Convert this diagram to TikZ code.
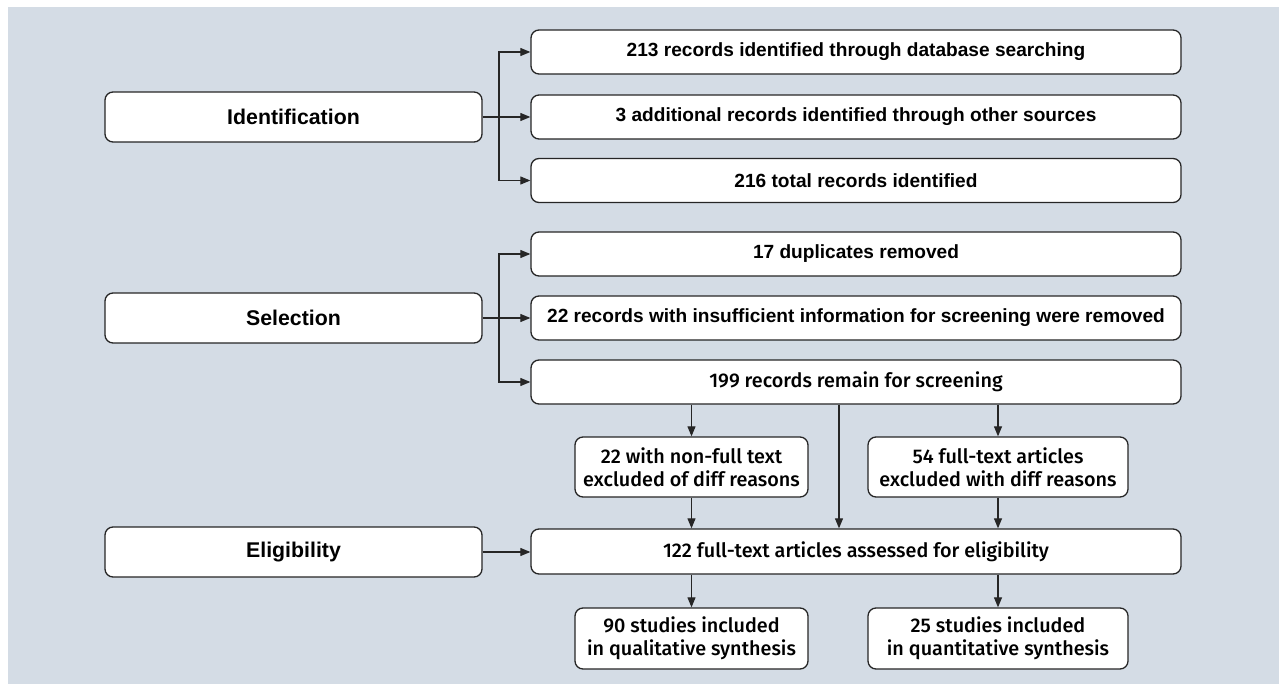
\documentclass[tikz,border=0pt]{standalone}
\usepackage{fontspec}
\usetikzlibrary{arrows.meta,calc}
\newfontfamily\arialb{Liberation Sans}[UprightFont=* Bold]
\newfontfamily\fgm{Fira Sans Medium}
\definecolor{bgc}{HTML}{D4DCE5}
\definecolor{linec}{HTML}{262626}
\tikzset{
  box/.style={draw=linec, line width=1.3pt, fill=white, rounded corners=8pt,
    rectangle, inner sep=0pt, align=center, text=black},
  fa/.style={font=\arialb\fontsize{19.1}{23}\selectfont},
  fl/.style={font=\arialb\fontsize{21.3}{25}\selectfont},
  fb/.style={font=\fgm\fontsize{19.8}{23}\selectfont},
  conn/.style={draw=linec, line width=1.1pt},
  arr/.style={conn, -{Triangle[length=10pt,width=8pt]}}
}
\begin{document}
\begin{tikzpicture}[x=1pt,y=-1pt]
\useasboundingbox (0,0) rectangle (1279,684);
\fill[bgc] (8,7) rectangle (1279,684);
% left stage boxes
\node[box,fl,minimum width=377,minimum height=50] (ident) at (293.5,117) {Identification};
\node[box,fl,minimum width=377,minimum height=50] (sel) at (293.5,318) {Selection};
\node[box,fl,minimum width=377,minimum height=50] (elig) at (293.5,552) {Eligibility};
% identification boxes
\node[box,fa,minimum width=650,minimum height=44] (r1) at (856,52) {213 records identified through database searching};
\node[box,fa,minimum width=650,minimum height=44] (r2) at (856,117) {3 additional records identified through other sources};
\node[box,fa,minimum width=650,minimum height=44] (r3) at (856,180.5) {216 total records identified};
% selection boxes
\node[box,fa,minimum width=650,minimum height=44] (s1) at (856,254) {17 duplicates removed};
\node[box,fa,minimum width=650,minimum height=44] (s2) at (856,318) {22 records with insufficient information for screening were removed};
\node[box,fb,minimum width=650,minimum height=44] (s3) at (856,382) {199 records remain for screening};
% exclusion boxes
\node[box,fb,minimum width=233,minimum height=60] (nf) at (691.5,467) {22 with non-full text\\excluded of diff reasons};
\node[box,fb,minimum width=260,minimum height=60] (ft) at (998,467) {54 full-text articles\\excluded with diff reasons};
% eligibility
\node[box,fb,minimum width=650,minimum height=45] (e1) at (856,551.5) {122 full-text articles assessed for eligibility};
% included
\node[box,fb,minimum width=233,minimum height=61] (q1) at (691.5,638.5) {90 studies included\\in qualitative synthesis};
\node[box,fb,minimum width=260,minimum height=61] (q2) at (998,638.5) {25 studies included\\in quantitative synthesis};
% connectors identification
\coordinate (bi) at (499,117);
\draw[conn] (ident.east) -- (bi);
\draw[arr] (bi) |- (r1.west);
\draw[arr] (bi) -- (r2.west);
\draw[arr] (bi) |- (r3.west);
% selection
\coordinate (bs) at (499,318);
\draw[conn] (sel.east) -- (bs);
\draw[arr] (bs) |- (s1.west);
\draw[arr] (bs) -- (s2.west);
\draw[arr] (bs) |- (s3.west);
% eligibility
\draw[arr] (elig.east) -- (elig.east -| e1.west);
% middle
\draw[arr] (s3.south -| nf.north) -- (nf.north);
\draw[arr] (s3.south -| ft.north) -- (ft.north);
\draw[arr] ([xshift=-17pt]s3.south) -- ([xshift=-17pt]s3.south |- e1.north);
\draw[arr] (nf.south) -- (nf.south |- e1.north);
\draw[arr] (ft.south) -- (ft.south |- e1.north);
\draw[arr] (e1.south -| q1.north) -- (q1.north);
\draw[arr] (e1.south -| q2.north) -- (q2.north);
\end{tikzpicture}
\end{document}
